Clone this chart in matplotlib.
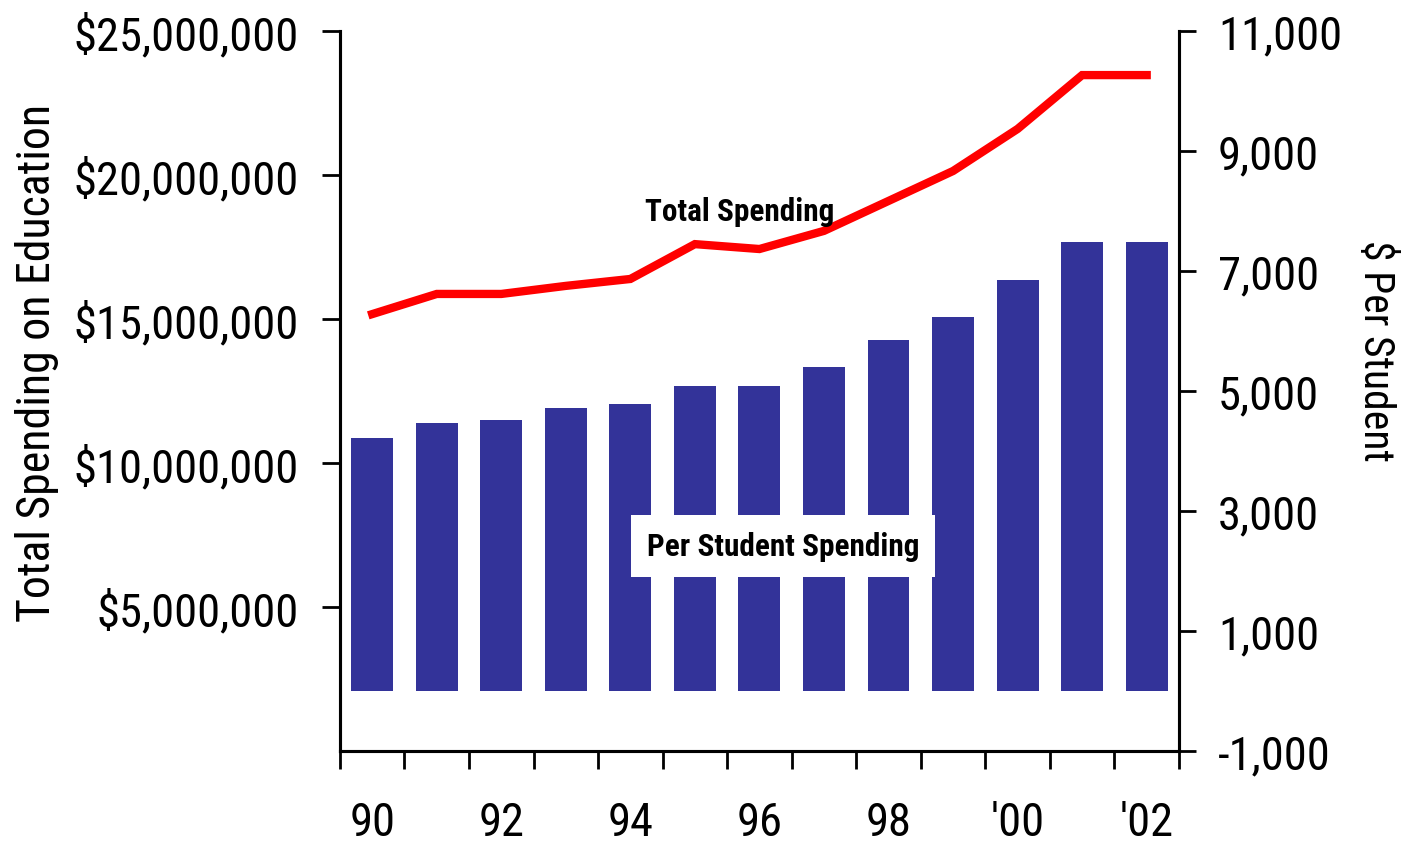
import matplotlib
matplotlib.use("Agg")
import matplotlib.pyplot as plt
from matplotlib.ticker import FuncFormatter

plt.rcParams['font.family'] = ['Roboto Condensed', 'DejaVu Sans']

years = ['90', '91', '92', '93', '94', '95', '96', '97', '98', '99', "'00", "'01", "'02"]
# Per-student spending (right axis), bars
per_student = [4217, 4467, 4517, 4717, 4783, 5083, 5083, 5400, 5850, 6233, 6850, 7483, 7483]
# Total spending (left axis), line
total = [15170000, 15870000, 15870000, 16150000, 16390000, 17600000, 17430000,
         18060000, 19100000, 20140000, 21600000, 23470000, 23470000]

left_ticks = [5000000, 10000000, 15000000, 20000000, 25000000]
right_ticks = [-1000, 1000, 3000, 5000, 7000, 9000, 11000]

x = list(range(len(years)))

fig = plt.figure(figsize=(14.03, 8.45), dpi=100)
ax = fig.add_axes([0.2423, 0.1101, 0.598, 0.852])
ax2 = ax.twinx()

# bars on the right axis, line on the left axis drawn on top
ax2.bar(x, per_student, width=0.65, color='#333399')
ax.plot(x, total, color='#ff0000', lw=6, solid_joinstyle='miter')
ax.set_zorder(ax2.get_zorder() + 1)
ax.patch.set_visible(False)

ax.set_xlim(-0.5, len(years) - 0.5)
ax.set_ylim(0, 25000000)
ax2.set_ylim(-1000, 11000)

ax.set_yticks(left_ticks)
ax.yaxis.set_major_formatter(FuncFormatter(lambda v, p: '${:,.0f}'.format(v)))
ax2.set_yticks(right_ticks)
ax2.yaxis.set_major_formatter(FuncFormatter(lambda v, p: '{:,.0f}'.format(v)))

# tick marks between the bars, labels on every other year
ax.set_xticks([i - 0.5 for i in range(len(years) + 1)])
ax.set_xticklabels([])
ax.set_xticks(x[::2], minor=True)
ax.set_xticklabels(years[::2], minor=True)
ax.tick_params(axis='x', which='major', direction='out', length=13, width=2)
ax.tick_params(axis='x', which='minor', length=0, pad=35, labelsize=33.5)
ax.tick_params(axis='y', direction='out', length=13, width=2, pad=17, labelsize=33.5)
ax2.tick_params(axis='y', direction='out', length=12, width=2, pad=16, labelsize=33.5)

for a in (ax, ax2):
    a.spines['top'].set_visible(False)
    for s in ('left', 'right', 'bottom'):
        a.spines[s].set_linewidth(2.2)

ax.set_ylabel('Total Spending on Education', fontsize=33)
ax.yaxis.set_label_coords(-0.335, 0.54)
ax2.set_ylabel('$ Per Student', fontsize=30, rotation=-90, va='bottom')
ax2.yaxis.set_label_coords(1.21, 0.557)

ax.text(5.7, 18750000, 'Total Spending', fontsize=22.5, fontweight='bold',
        ha='center', va='center')
ax.text(6.37, 7120000, 'Per Student Spending', fontsize=22.5, fontweight='bold',
        ha='center', va='center',
        bbox=dict(boxstyle='square,pad=0.5', fc='white', ec='none'))

fig.savefig('out.png', dpi=100)
